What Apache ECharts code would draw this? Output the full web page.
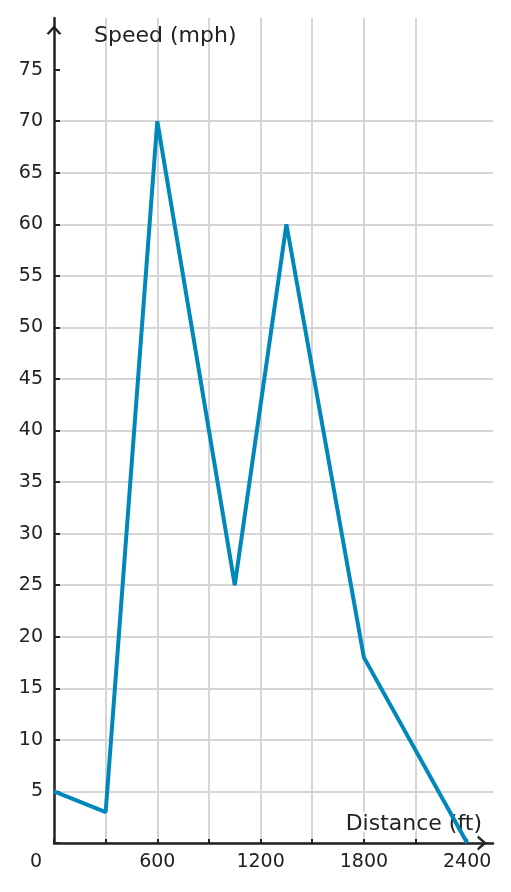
<!DOCTYPE html>
<html>
<head>
<meta charset="utf-8">
<script src="https://cdn.jsdelivr.net/npm/echarts@6/dist/echarts.min.js"></script>
<style>
  html, body { margin: 0; padding: 0; background: #fff; }
  #chart { width: 511px; height: 892px; }
</style>
</head>
<body>
<div id="chart"></div>
<script>
// distance (ft) and speed (mph)
const distance = [0, 300, 600, 1050, 1350, 1800, 2400]
const speed = [5, 3, 70, 25, 60, 18, 0]
const xTicks = [0, 300, 600, 900, 1200, 1500, 1800, 2100, 2400]
const xLabels = [600, 1200, 1800, 2400]
const yTicks = [0, 5, 10, 15, 20, 25, 30, 35, 40, 45, 50, 55, 60, 65, 70, 75]
const yLabels = [5, 10, 15, 20, 25, 30, 35, 40, 45, 50, 55, 60, 65, 70, 75]

const textColor = '#222'
const gridColor = '#d6d6d6'
const font = 'DejaVu Sans'
// open chevron arrow head, tip at top
const arrow = 'path://M0,8 L7,0 L14,8 L12,9 L7,3.4 L2,9 Z'

let myChart = echarts.init(document.getElementById('chart'), null, { renderer: 'canvas' })
myChart.setOption({
  animation: false,
  grid: {
    left: 54,
    right: 18,
    top: 18,
    bottom: 49
  },
  xAxis: {
    type: 'value',
    min: 0,
    max: 2550,
    interval: 300,
    name: 'Distance (ft)',
    nameLocation: 'end',
    nameGap: -11,
    nameTextStyle: {
      align: 'right',
      verticalAlign: 'bottom',
      fontFamily: font,
      fontSize: 22,
      color: textColor,
      textBorderColor: '#fff',
      textBorderWidth: 3,
      padding: [0, 0, 8, 0]
    },
    axisLine: {
      lineStyle: { color: textColor, width: 2.5 },
      symbol: ['none', arrow],
      symbolSize: [15, 10],
      symbolOffset: [0, -11]
    },
    axisTick: {
      inside: true,
      length: 4,
      customValues: xTicks,
      lineStyle: { color: textColor, width: 2 }
    },
    axisLabel: {
      fontFamily: font,
      fontSize: 19,
      color: textColor,
      margin: 10,
      customValues: xLabels,
      formatter: v => String(v)
    },
    splitLine: {
      show: true,
      showMinLine: false,
      showMaxLine: false,
      lineStyle: { color: gridColor, width: 2 }
    }
  },
  yAxis: {
    type: 'value',
    min: 0,
    max: 80,
    interval: 5,
    name: 'Speed (mph)',
    nameLocation: 'end',
    nameGap: -18,
    nameTextStyle: {
      align: 'left',
      verticalAlign: 'middle',
      fontFamily: font,
      fontSize: 22,
      color: textColor,
      padding: [0, 0, 0, 40]
    },
    axisLine: {
      lineStyle: { color: textColor, width: 2.5 },
      symbol: ['none', arrow],
      symbolSize: [15, 10],
      symbolOffset: [0, -12]
    },
    axisTick: {
      inside: true,
      length: 6,
      customValues: yTicks,
      lineStyle: { color: textColor, width: 2 }
    },
    axisLabel: {
      fontFamily: font,
      fontSize: 19,
      color: textColor,
      margin: 11,
      customValues: yLabels,
      formatter: v => String(v)
    },
    splitLine: {
      show: true,
      showMinLine: true,
      showMaxLine: false,
      lineStyle: { color: gridColor, width: 2 }
    }
  },
  graphic: [{
    type: 'text',
    left: 30,
    top: 853,
    style: {
      text: '0',
      fontFamily: font,
      fontSize: 19,
      fill: textColor
    }
  }],
  series: [{
    type: 'line',
    data: distance.map((d, i) => [d, speed[i]]),
    showSymbol: false,
    lineStyle: { color: '#0088bb', width: 4 },
    z: 1
  }]
})
</script>
</body>
</html>
